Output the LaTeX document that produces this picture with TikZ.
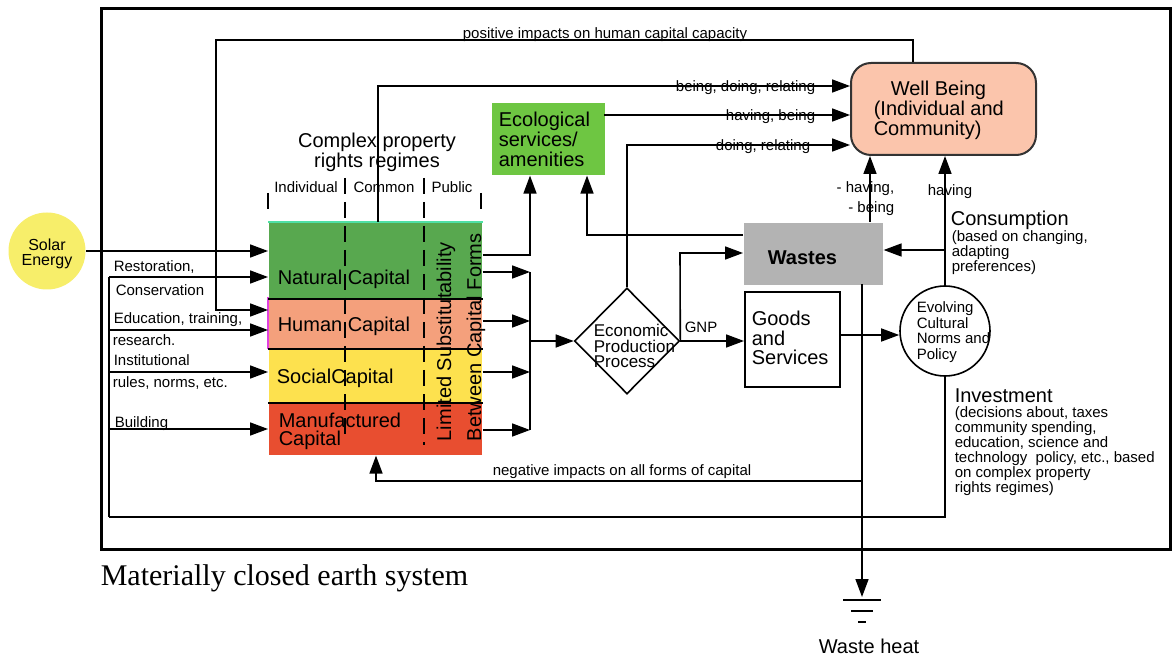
\documentclass[tikz,border=0pt]{standalone}
\usepackage{fontspec}
\setmainfont{Liberation Sans}
\newfontfamily\titlefont{Liberation Serif}
\usetikzlibrary{arrows.meta,shapes.geometric}
\newcommand\setfz[2]{\fontsize{#1}{#2}\selectfont}
\newcommand\leftlines[1]{\vtop{\halign{##\hfil\cr#1\crcr}}}
\newcommand\centerlines[1]{\vtop{\halign{\hfil##\hfil\cr#1\crcr}}}
\newcommand\rightlines[1]{\vtop{\halign{\hfil##\cr#1\crcr}}}

\definecolor{solarY}{HTML}{F7EE6A}
\definecolor{natG}{HTML}{58A84F}
\definecolor{natEdge}{HTML}{4FE0A5}
\definecolor{humS}{HTML}{F4A07C}
\definecolor{humEdge}{HTML}{E040E0}
\definecolor{socY}{HTML}{FDE14E}
\definecolor{manR}{HTML}{E84E30}
\definecolor{ecoG}{HTML}{6EC642}
\definecolor{wellP}{HTML}{FBC5AC}
\definecolor{wasteG}{HTML}{B3B3B3}

\begin{document}
\begin{tikzpicture}[x=1pt,y=-1pt,line width=1.6pt,
  arr/.style={-{Triangle[length=18pt,width=13pt]}},
  tx/.style={inner sep=0pt,anchor=base west},
  blk/.style={inner sep=0pt,anchor=north west},
  dashdiv/.style={line width=2pt,dash pattern=on 16pt off 8pt},
  small/.style={font=\setfz{15}{15}},
  big/.style={font=\setfz{20}{20}}]

\useasboundingbox (0,0) rectangle (1173,660);
\fill[white] (0,0) rectangle (1173,660);

% ---------- boxes ----------
\node[fill=solarY,circle,minimum size=77pt,inner sep=0pt] (solar) at (47,251) {};
\node[blk,fill=natG,minimum width=213pt,minimum height=75pt] (natural) at (268,222) {};
\node[blk,fill=humS,minimum width=213pt,minimum height=50pt] (human) at (268,297) {};
\node[blk,fill=socY,minimum width=213pt,minimum height=54pt] (social) at (268,347) {};
\node[blk,fill=manR,minimum width=213pt,minimum height=53pt] (manuf) at (268,401) {};
\node[blk,fill=ecoG,minimum width=113pt,minimum height=72pt] (eco) at (491,102) {};
\node[blk,draw=black!80,line width=2pt,fill=wellP,rounded corners=20pt,
      minimum width=185pt,minimum height=92pt] (wb) at (850,62) {};
\node[blk,fill=wasteG,minimum width=139pt,minimum height=62pt] (wastes) at (743,222) {};
\node[blk,draw,line width=2pt,minimum width=95pt,minimum height=95pt] (goods) at (744,291) {};
\node[draw,diamond,inner sep=0pt,minimum width=105pt,minimum height=106pt] (econ) at (627,341) {};
\node[draw,circle,inner sep=0pt,minimum size=90pt] (norms) at (945,331) {};

% edges of the capital stack
\draw[natEdge,line width=2pt] (natural.north west) -- (natural.north east);
\draw[humEdge,line width=2pt] (human.north west) -- (human.south west);
\draw[line width=2pt] (natural.south west) -- (natural.south east);
\draw[line width=2pt] (human.south west) -- (human.south east);
\draw[line width=2pt] (social.south west) -- (social.south east);

% property-regime dividers
\draw[dashdiv] (268,193) -- (268,216);
\draw[dashdiv] (481,193) -- (481,216);
\draw[dashdiv] (345,178) -- (345,440);
\draw[dashdiv] (424,178) -- (424,445);

% outer frame of the earth system
\draw[line width=3pt] (101,9) rectangle (1170,549);

% ---------- connector bends ----------
\coordinate (lb) at (109,277);
\coordinate (le) at (109,330);
\coordinate (li) at (109,372);
\coordinate (lbd) at (109,429);
\coordinate (il) at (109,517);
\coordinate (iv) at (945,517);
\coordinate (pi) at (913,40);
\coordinate (pj) at (216,40);
\coordinate (pk) at (216,310);
\coordinate (nt) at (378,86);
\coordinate (ee) at (604,115);
\coordinate (dt) at (627,145);
\coordinate (ne) at (530,255);
\coordinate (b1) at (530,272);
\coordinate (b2) at (530,321);
\coordinate (b3) at (530,372);
\coordinate (b4) at (530,430);
\coordinate (bm) at (530,341);
\coordinate (gw) at (680,253);
\coordinate (we) at (587,235);
\coordinate (wu) at (870,222);
\coordinate (cs) at (945,250);
\coordinate (gn) at (839,335);
\coordinate (wd) at (862,284);
\coordinate (ni) at (862,481);
\coordinate (nl) at (376,481);
\coordinate (heat) at (862,597);

% ---------- connectors ----------
\draw[arr] (solar.east) -- (solar.east -| natural.west);
\draw (lb) -- (il);
\draw[arr] (lb) -- (lb -| natural.west);
\draw[arr] (le) -- (le -| human.west);
\draw[arr] (li) -- (li -| social.west);
\draw[arr] (lbd) -- (lbd -| manuf.west);
\draw[arr] (pi |- wb.north) -- (pi) -- (pj) -- (pk) -- (pk -| human.west);
\draw[arr] (nt |- natural.north) -- (nt) -- (nt -| wb.west);
\draw[arr] (ee) -- (ee -| wb.west);
\draw[arr] (econ.north) -- (dt) -- (dt -| wb.west);
\draw[arr] (ne -| natural.east) -- (ne) -- (ne |- eco.south);
\draw[arr] (b1 -| natural.east) -- (b1);
\draw[arr] (b2 -| human.east) -- (b2);
\draw[arr] (b3 -| social.east) -- (b3);
\draw[arr] (b4 -| manuf.east) -- (b4);
\draw (b1) -- (b4);
\draw[arr] (bm) -- (econ.west);
\draw[arr] (econ.east) -- (econ.east -| goods.west);
\draw[arr] (econ.east) -- (gw) -- (gw -| wastes.west);
\draw[arr] (we -| wastes.west) -- (we) -- (we |- eco.south);
\draw[arr] (wu) -- (wu |- wb.south);
\draw[arr] (norms.north) -- (norms.north |- wb.south);
\draw[arr] (cs) -- (cs -| wastes.east);
\draw[arr] (gn) -- (gn -| norms.west);
\draw (norms.south) -- (iv) -- (il);
\draw[arr] (wd) -- (heat);
\draw[arr] (ni) -- (nl) -- (nl |- manuf.south);

% ground symbol for waste heat
\draw (843,600) -- (881,600);
\draw (851,611) -- (873,611);
\draw (858,622) -- (866,622);

% ---------- text ----------
\node[font=\setfz{16}{14.5},inner sep=0pt,anchor=base] (tSolar) at (47,251) {\centerlines{Solar\cr Energy}};

\node[tx,small] (tRest) at (113,272) {Restoration,};
\node[tx,small] (tCons) at (115,296) {Conservation};
\node[tx,small] (tEdu) at (113,324) {Education, training,};
\node[tx,small] (tRes) at (112,345) {research.};
\node[tx,small] (tInst) at (113,366) {Institutional};
\node[tx,small] (tRules) at (112,388) {rules, norms, etc.};
\node[tx,small] (tBuild) at (114,427) {Building};

\node[small,inner sep=0pt,anchor=base] (tIndiv) at (306,193) {Individual};
\node[small,inner sep=0pt,anchor=base] (tCommon) at (384,193) {Common};
\node[small,inner sep=0pt,anchor=base] (tPublic) at (452,193) {Public};
\node[font=\setfz{20}{18},inner sep=0pt,anchor=base] (tRegimes) at (377,148)
  {\centerlines{Complex property\cr rights regimes}};

\node[tx,big] (tNat) at (277,285) {Natural Capital};
\node[tx,big] (tHum) at (277,332) {Human Capital};
\node[tx,big] (tSoc) at (276,383) {SocialCapital};
\node[tx,font=\setfz{20}{18}] (tMan) at (278,427) {\leftlines{Manufactured\cr Capital}};
\node[tx,big,rotate=90] (tSub1) at (451,442) {Limited Substitutability};
\node[tx,big,rotate=90] (tSub2) at (481,442) {Between Capital Forms};

\node[tx,big] (tEco) at (498,127) {\leftlines{Ecological\cr services/\cr amenities}};
\node[tx,big] (tWb) at (873,96) {\leftlines{\hspace*{17pt}Well Being\cr (Individual and\cr Community)}};
\node[tx,font=\bfseries\setfz{20}{20}] (tWastes) at (767,265) {Wastes};
\node[tx,font=\setfz{20}{19.5}] (tGoods) at (751,326) {\leftlines{Goods\cr and\cr Services}};
\node[tx,font=\setfz{17}{15.5}] (tEcon) at (593,337) {\leftlines{Economic\cr Production\cr Process}};
\node[tx,small] (tGnp) at (684,333) {GNP};
\node[tx,font=\setfz{15}{15.5}] (tNorms) at (916,313) {\leftlines{Evolving\cr Cultural\cr Norms and\cr Policy}};

\node[small,inner sep=0pt,anchor=base east] (tBdr) at (816,92) {being, doing, relating};
\node[small,inner sep=0pt,anchor=base east] (tHb) at (816,121) {having, being};
\node[small,inner sep=0pt,anchor=base east] (tDr) at (811,151) {doing, relating};
\node[font=\setfz{15}{20},inner sep=0pt,anchor=base east] (tHavB) at (895,193) {\rightlines{- having,\cr - being}};
\node[small,inner sep=0pt,anchor=base] (tHav) at (950,196) {having};

\node[tx,big] (tCons2) at (950,226) {Consumption};
\node[tx,small] (tConsD) at (951,242) {\leftlines{(based on changing,\cr adapting\cr preferences)}};
\node[tx,big] (tInv) at (954,402) {Investment};
\node[tx,small] (tInvD) at (954,417) {\leftlines{(decisions about, taxes\cr community spending,\cr education, science and\cr technology\ \ policy, etc., based\cr on complex property\cr rights regimes)}};

\node[small,inner sep=0pt,anchor=base] (tPos) at (605,38.5) {positive impacts on human capital capacity};
\node[small,inner sep=0pt,anchor=base] (tNeg) at (622,475) {negative impacts on all forms of capital};
\node[big,inner sep=0pt,anchor=base] (tHeat) at (869,653) {Waste heat};
\node[tx,font=\titlefont\setfz{30}{30}] (tTitle) at (100,585) {Materially closed earth system};
\end{tikzpicture}
\end{document}
